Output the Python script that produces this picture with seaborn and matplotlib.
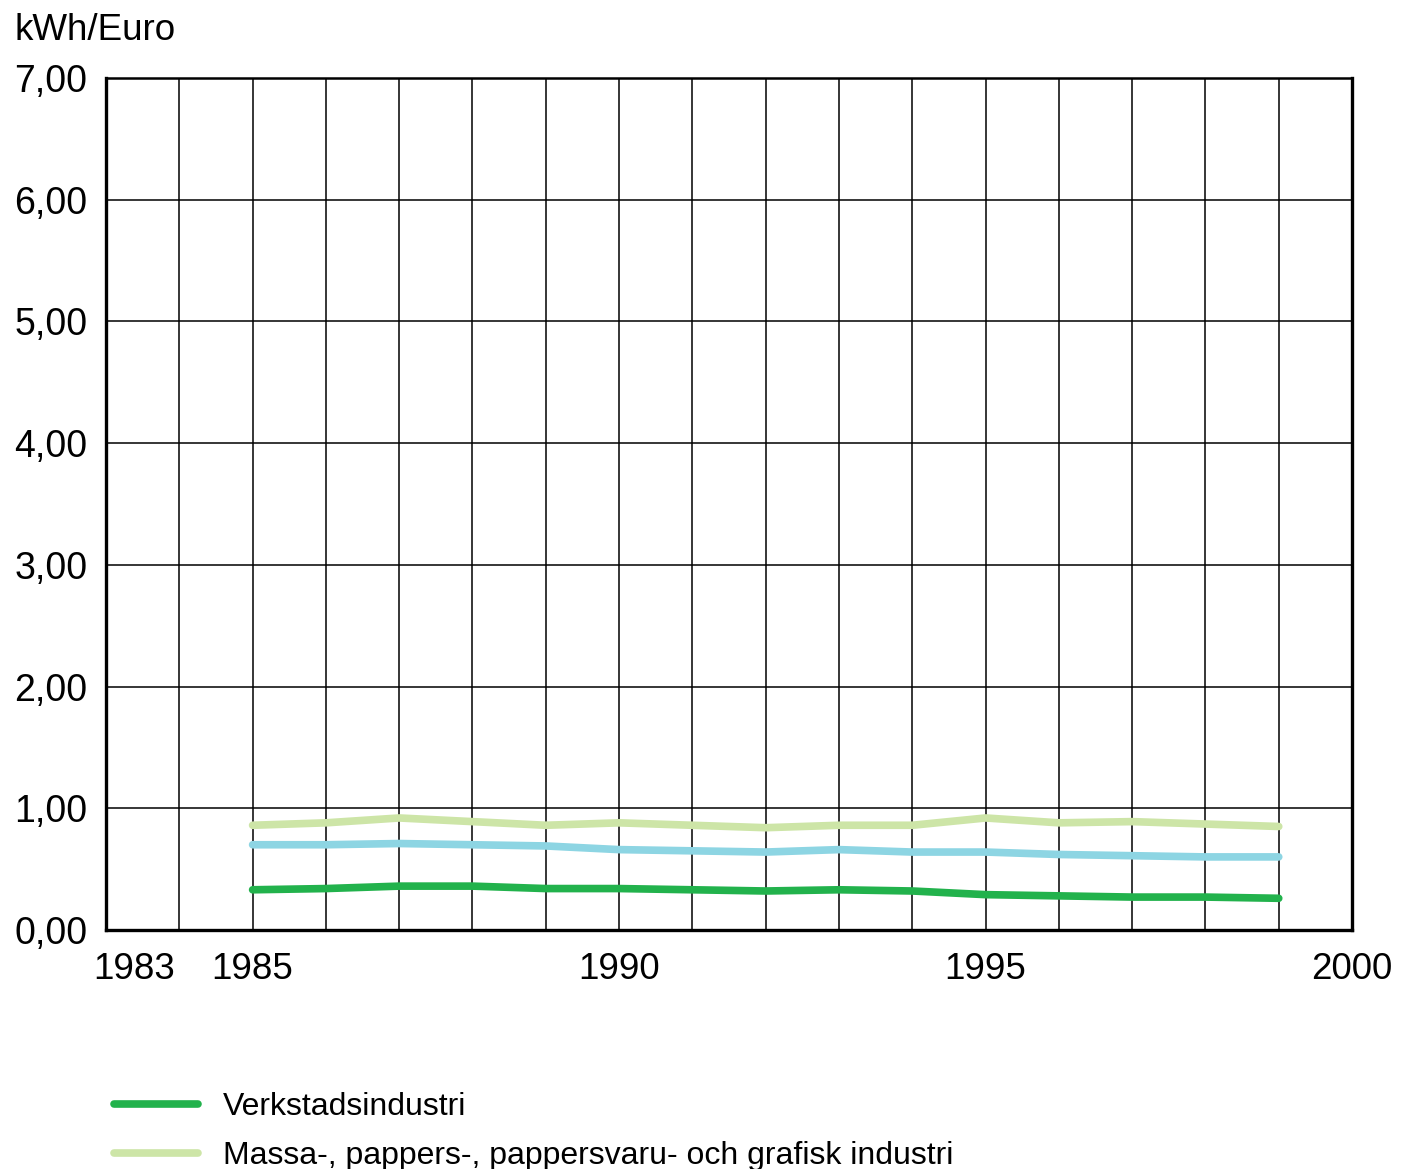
import pandas as pd
import seaborn as sns
import matplotlib.pyplot as plt
import matplotlib.transforms as mtransforms

years = list(range(1985, 2000))
verkstad = [0.33, 0.34, 0.36, 0.36, 0.34, 0.34, 0.33, 0.32, 0.33, 0.32, 0.29, 0.28, 0.27, 0.27, 0.26]
blue_series = [0.70, 0.70, 0.71, 0.70, 0.69, 0.66, 0.65, 0.64, 0.66, 0.64, 0.64, 0.62, 0.61, 0.60, 0.60]
massa = [0.86, 0.88, 0.92, 0.89, 0.86, 0.88, 0.86, 0.84, 0.86, 0.86, 0.92, 0.88, 0.89, 0.87, 0.85]

series_names = ["Verkstadsindustri",
                "Massa-, pappers-, pappersvaru- och grafisk industri",
                "_blue"]
colors = {series_names[0]: "#22b24c", series_names[1]: "#cde5a7", series_names[2]: "#8dd5e3"}

xtick_vals = [1983, 1985, 1990, 1995, 2000]
xtick_labels = ["1983", "1985", "1990", "1995", "2000"]
ytick_vals = [0, 1, 2, 3, 4, 5, 6, 7]
ytick_labels = ["0,00", "1,00", "2,00", "3,00", "4,00", "5,00", "6,00", "7,00"]

df = pd.DataFrame({
    "year": years * 3,
    "value": verkstad + massa + blue_series,
    "serie": [series_names[0]] * 15 + [series_names[1]] * 15 + [series_names[2]] * 15,
})

sns.set_style("white")
plt.rcParams["font.family"] = ["Liberation Sans", "DejaVu Sans"]
plt.rcParams["text.color"] = "black"
plt.rcParams["xtick.color"] = "black"
plt.rcParams["ytick.color"] = "black"

fig = plt.figure(figsize=(14.04, 11.69), dpi=100)
ax = fig.add_axes([0.0755, 0.2045, 0.8875, 0.7288])

# grid first so lines sit on top
for yr in range(1983, 2001):
    ax.axvline(yr, color="black", lw=1.1, zorder=1)
for v in ytick_vals:
    ax.axhline(v, color="black", lw=1.1, zorder=1)

sns.lineplot(data=df, x="year", y="value", hue="serie", palette=colors,
             hue_order=series_names, linewidth=5.5, ax=ax, legend=False, zorder=3)

ax.set_xlim(1983, 2000)
ax.set_ylim(0, 7)
ax.set_xlabel("")
ax.set_ylabel("")
ax.set_xticks(xtick_vals)
ax.set_xticklabels(xtick_labels, fontsize=26.5)
ax.set_yticks(ytick_vals)
ax.set_yticklabels(ytick_labels, fontsize=27)
ax.tick_params(axis="both", length=0)
ax.tick_params(axis="y", pad=13.5)
ax.tick_params(axis="x", pad=16)

# the 1983 label sits a bit right of its grid line
lbl = ax.get_xticklabels()[0]
lbl.set_transform(lbl.get_transform() + mtransforms.ScaledTranslation(0.28, 0, fig.dpi_scale_trans))

for side in ["left", "bottom", "right"]:
    ax.spines[side].set_linewidth(2.4)
    ax.spines[side].set_color("black")
ax.spines["top"].set_linewidth(1.8)
ax.spines["top"].set_color("black")

fig.text(0.010, 0.974, "kWh/Euro", fontsize=26.5, ha="left", va="center")

handles = [plt.Line2D([], [], color=colors[n], lw=5.5) for n in series_names[:2]]
fig.legend(handles, series_names[:2], loc="upper left", bbox_to_anchor=(0.081, 0.066),
           frameon=False, fontsize=23, handlelength=2.65, handletextpad=0.78,
           labelspacing=0.6, borderaxespad=0, borderpad=0)

plt.savefig("out.png", dpi=100)
